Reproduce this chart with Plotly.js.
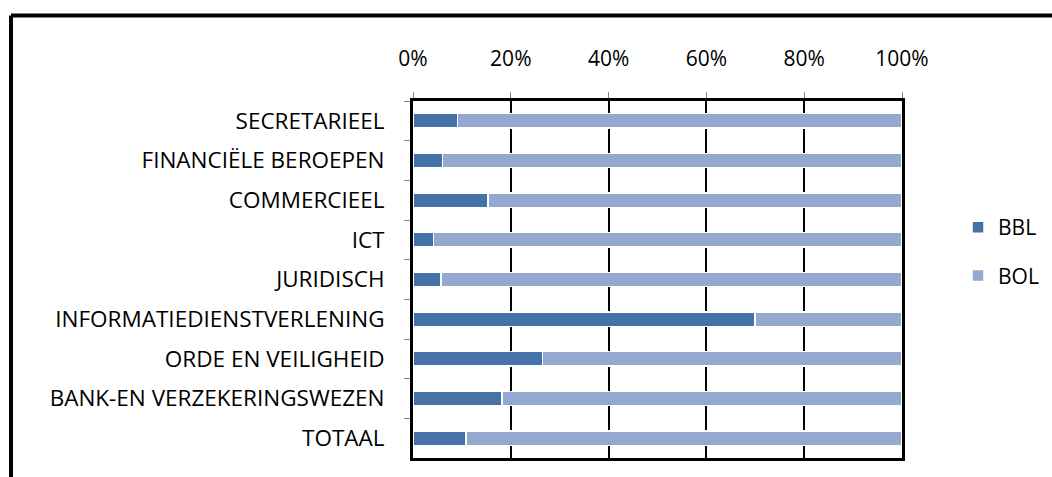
<!DOCTYPE html>
<html>
<head>
<meta charset="utf-8">
<script src="https://cdn.plot.ly/plotly-3.0.1.min.js"></script>
<style>html,body{margin:0;padding:0;background:#fff;}#chart{width:1052px;height:477px;}</style>
</head>
<body>
<div id="chart"></div>
<script>
const categories = ["SECRETARIEEL","FINANCIËLE BEROEPEN","COMMERCIEEL","ICT","JURIDISCH","INFORMATIEDIENSTVERLENING","ORDE EN VEILIGHEID","BANK-EN VERZEKERINGSWEZEN","TOTAAL"];
const bbl = [0.091, 0.060, 0.153, 0.042, 0.057, 0.699, 0.265, 0.182, 0.108];
const bol = bbl.map(v => 1 - v);
const xTicks = [0, 0.2, 0.4, 0.6, 0.8, 1.0];

const W = 1052, H = 477;
const L = 413, R = 902, T = 101, B = 458;
const pw = R - L, ph = B - T;
const px = x => (x - L) / pw;
const py = y => (B - y) / ph;

const FAM = "'Open Sans', 'Noto Sans', sans-serif";
const font = {family: FAM, size: 22, color: '#000'};

const traces = [
  {type: 'bar', orientation: 'h', name: 'BBL', y: categories, x: bbl, legendgroup: 'a',
   marker: {color: '#4572A7', line: {color: '#ffffff', width: 1.5}}, hoverinfo: 'none'},
  {type: 'bar', orientation: 'h', name: 'BOL', y: categories, x: bol, legendgroup: 'b',
   marker: {color: '#93A9CF', line: {color: '#ffffff', width: 1.5}}, hoverinfo: 'none'}
];

const layout = {
  width: W, height: H,
  margin: {l: L, r: W - R, t: T, b: H - B, pad: 0, autoexpand: false},
  paper_bgcolor: '#fff', plot_bgcolor: '#fff',
  barmode: 'stack', bargap: 0.64,
  font: font,
  showlegend: true,
  legend: {x: px(958), y: py(207), xanchor: 'left', yanchor: 'top', traceorder: 'grouped',
           tracegroupgap: 18, font: {family: FAM, size: 21, color: '#000'}, bgcolor: 'rgba(0,0,0,0)'},
  xaxis: {side: 'top', range: [0, 1], tickvals: xTicks, tickformat: '.0%',
          showgrid: true, gridcolor: '#000', gridwidth: 2, zeroline: false,
          showline: true, linecolor: '#000', linewidth: 3, mirror: true,
          ticks: 'outside', ticklen: 6, tickcolor: '#888', tickwidth: 1,
          ticklabelstandoff: 18, tickfont: {family: FAM, size: 21, color: '#000'}, fixedrange: true},
  yaxis: {type: 'category', autorange: 'reversed', showgrid: false, zeroline: false,
          showline: true, linecolor: '#000', linewidth: 3, mirror: true,
          ticks: 'outside', tickson: 'boundaries', ticklen: 6, tickcolor: '#888', tickwidth: 1,
          ticklabelstandoff: 21, tickfont: {family: FAM, size: 22.5, color: '#000'}, fixedrange: true},
  shapes: [
    {type: 'line', xref: 'paper', yref: 'paper', x0: px(11), x1: px(1060), y0: py(15.5), y1: py(15.5), line: {color: '#000', width: 4}},
    {type: 'line', xref: 'paper', yref: 'paper', x0: px(11), x1: px(11), y0: py(15.5), y1: py(490), line: {color: '#000', width: 4}}
  ]
};

Plotly.newPlot('chart', traces, layout, {displayModeBar: false, staticPlot: true});
</script>
</body>
</html>
